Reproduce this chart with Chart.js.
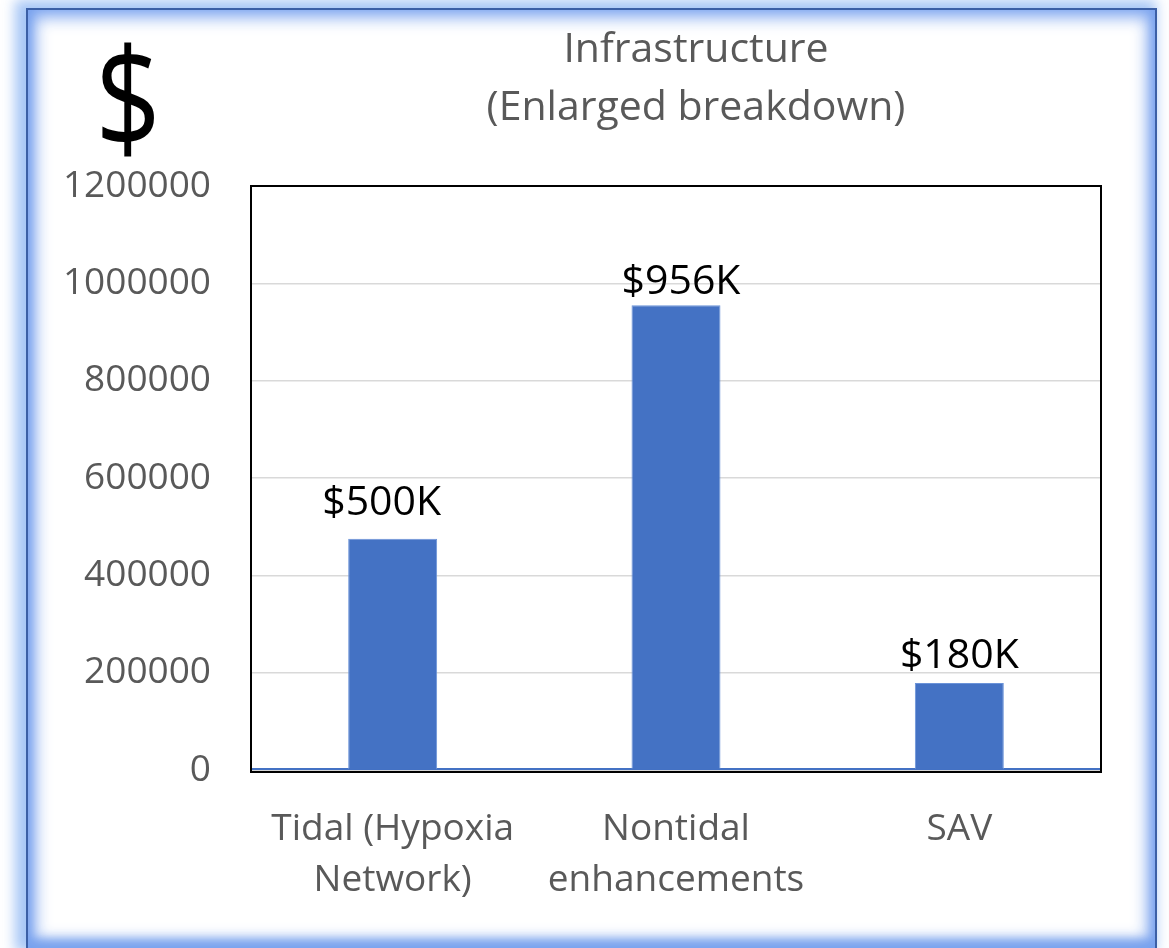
<!DOCTYPE html>
<html>
<head>
<meta charset="utf-8">
<script src="https://cdn.jsdelivr.net/npm/chart.js@4/dist/chart.umd.min.js"></script>
<style>
  html, body { margin: 0; padding: 0; background: #ffffff; width: 1169px; height: 948px; overflow: hidden; }
  #frame { position: absolute; left: 26px; top: 8px; width: 1127px; height: 938px;
    border: 2px solid #3b5fa6;
    box-shadow: inset 0 0 16px 7px rgba(118,160,238,0.95), inset 0 -6px 10px 2px rgba(90,140,230,0.7), -6px -3px 12px 5px rgba(150,188,245,0.85); }
  #wrap { position: absolute; left: 0; top: 0; width: 1169px; height: 948px; }
</style>
</head>
<body>
<div id="frame"></div>
<div id="wrap"><canvas id="c" width="1169" height="948"></canvas></div>
<script>
const categories = [["Tidal (Hypoxia", "Network)"], ["Nontidal", "enhancements"], ["SAV"]];
const values = [475000, 955000, 179000];
const valueLabels = ["$500K", "$956K", "$180K"];
const titleLines = ["Infrastructure", "(Enlarged breakdown)"];
const yMin = 0, yMax = 1200000, yStep = 200000;

const FONT = "'Open Sans', 'Noto Sans', sans-serif";

const decor = {
  id: 'decor',
  beforeDatasetsDraw(chart) {
    const {ctx, chartArea: a, scales} = chart;
    ctx.save();
    const y0 = scales.y.getPixelForValue(0);
    ctx.strokeStyle = '#bfbfbf'; ctx.lineWidth = 2;
    ctx.beginPath(); ctx.moveTo(a.left, y0 + 1.5); ctx.lineTo(a.right, y0 + 1.5); ctx.stroke();
    ctx.strokeStyle = '#4472C4'; ctx.lineWidth = 2;
    ctx.beginPath(); ctx.moveTo(a.left, y0 - 1); ctx.lineTo(a.right, y0 - 1); ctx.stroke();
    ctx.restore();
  },
  afterDatasetsDraw(chart, args, opts) {
    const {ctx, chartArea: a} = chart;
    ctx.save();
    ctx.strokeStyle = '#000000'; ctx.lineWidth = 2;
    ctx.strokeRect(a.left, a.top, a.right - a.left, a.bottom - a.top + 2);
    // data labels (manually nudged like the original)
    const meta = chart.getDatasetMeta(0);
    ctx.font = '41px ' + FONT;
    ctx.textAlign = 'center'; ctx.textBaseline = 'alphabetic';
    ctx.fillStyle = '#000000';
    meta.data.forEach((bar, i) => {
      const off = opts.labelOffsets[i];
      ctx.fillText(valueLabels[i], bar.x + off[0], bar.y - off[1]);
    });
    // title
    const cx = (a.left + a.right) / 2 + 20;
    ctx.fillStyle = '#595959';
    ctx.font = '41px ' + FONT;
    ctx.fillText(titleLines[0], cx, 62);
    ctx.fillText(titleLines[1], cx, 120);
    // big dollar sign
    ctx.fillStyle = '#000000';
    ctx.font = '140px ' + FONT;
    ctx.textBaseline = 'middle';
    ctx.translate(128, 108);
    ctx.scale(0.82, 1);
    ctx.fillText('$', 0, 0);
    ctx.restore();
  }
};

new Chart(document.getElementById('c'), {
  type: 'bar',
  data: {
    labels: categories,
    datasets: [{
      data: values,
      backgroundColor: '#4472C4',
      borderColor: '#6b93d9',
      borderWidth: 1,
      barPercentage: 1,
      categoryPercentage: 0.314
    }]
  },
  options: {
    responsive: false,
    animation: false,
    devicePixelRatio: 1,
    layout: { padding: { top: 186, right: 68, left: 0, bottom: 0 } },
    plugins: {
      legend: { display: false }, tooltip: { enabled: false }, title: { display: false },
      decor: { labelOffsets: [[-11, 24], [5, 11], [0, 15]] }
    },
    scales: {
      x: {
        grid: { display: false, drawTicks: false },
        border: { display: false },
        ticks: { color: '#595959', font: { family: FONT, size: 37, lineHeight: 1.38 }, padding: 34, maxRotation: 0, autoSkip: false },
        afterFit(s) { s.height = 178; }
      },
      y: {
        min: yMin, max: yMax,
        grid: { color: '#d9d9d9', lineWidth: 1.5, drawTicks: false },
        border: { display: false },
        ticks: { stepSize: yStep, color: '#595959', font: { family: FONT, size: 37 }, padding: 40,
                 callback: v => String(v) },
        afterFit(s) { s.width = 251; }
      }
    }
  },
  plugins: [decor]
});
</script>
</body>
</html>
